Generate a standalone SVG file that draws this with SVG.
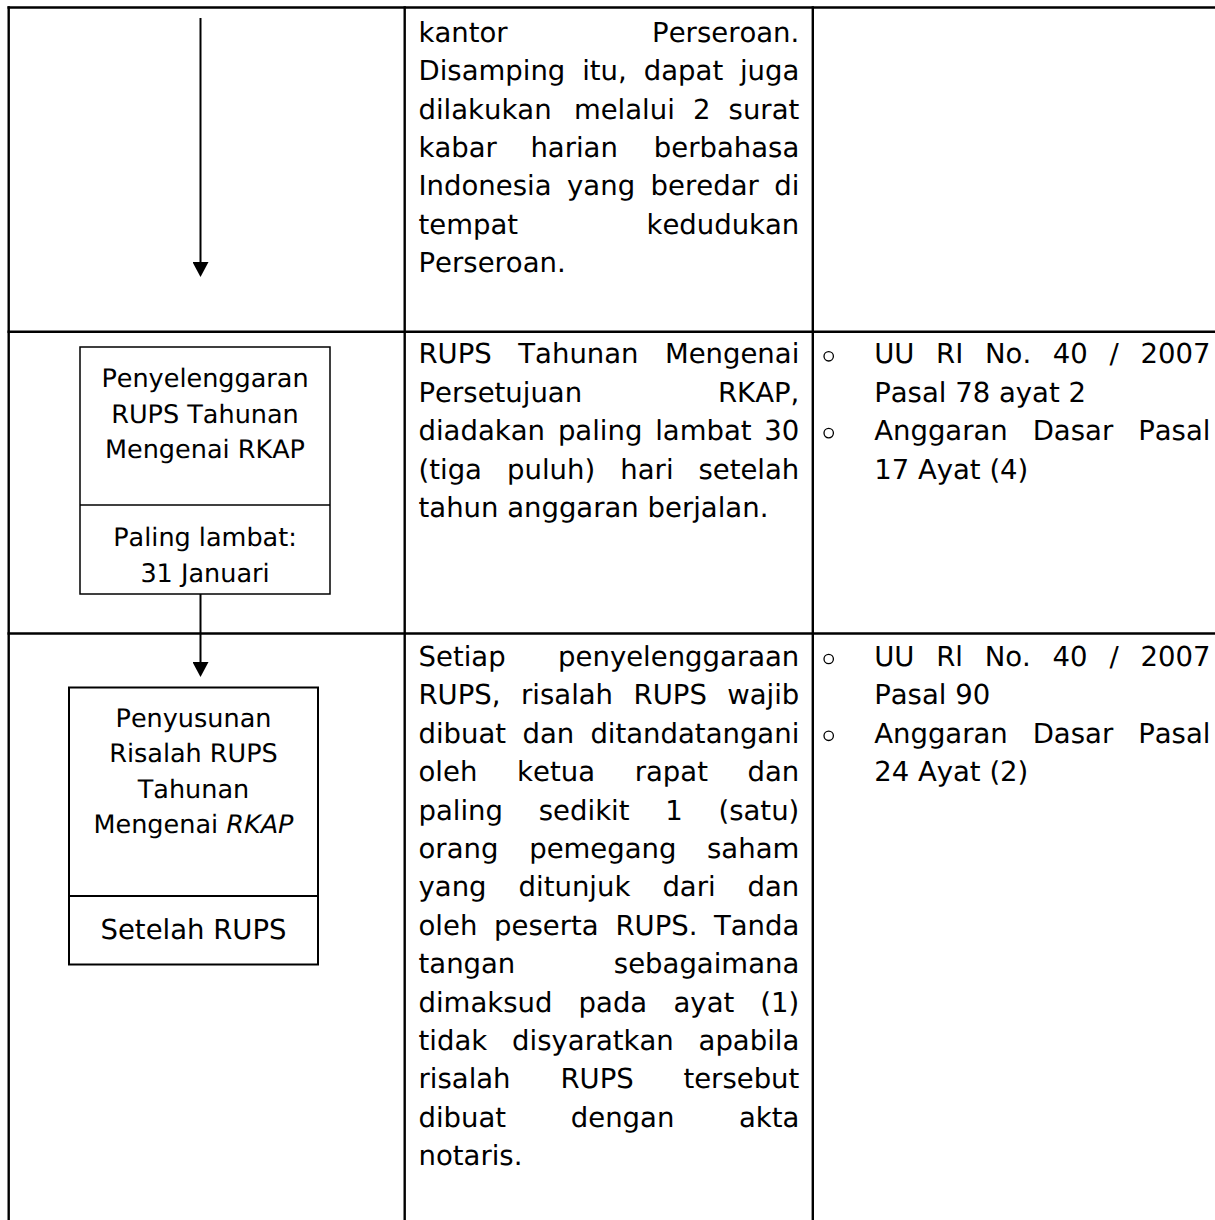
<svg xmlns="http://www.w3.org/2000/svg" width="1215" height="1220" viewBox="0 0 1215 1220">
<defs>
<style>
text{font-family:"DejaVu Sans","Verdana",sans-serif;fill:#000;font-kerning:none;text-rendering:geometricPrecision}
.t{font-size:27.5px}
.b{font-size:25.5px;text-anchor:middle}
.e{text-anchor:end}
.grid{stroke:#000;stroke-width:2.4;fill:none}
.box{stroke:#000;fill:#fff}
.con{stroke:#000;stroke-width:2;fill:none}
.bul{fill:none;stroke:#000;stroke-width:1.3}
</style>
<marker id="ah" viewBox="0 0 15 16" refX="8" refY="8" markerWidth="15" markerHeight="16" markerUnits="userSpaceOnUse" orient="auto">
<path d="M0,0 L15,8 L0,16 Z" fill="#000"/>
</marker>
</defs>
<rect width="1215" height="1220" fill="#fff"/>

<g id="table" class="grid">
<line x1="7.5" y1="7.5" x2="1215" y2="7.5"/>
<line x1="8.7" y1="6.3" x2="8.7" y2="1220"/>
<line x1="404.7" y1="6.3" x2="404.7" y2="1220"/>
<line x1="812.8" y1="6.3" x2="812.8" y2="1220"/>
<line x1="7.5" y1="331.8" x2="1215" y2="331.8"/>
<line x1="7.5" y1="633.5" x2="1215" y2="633.5"/>
</g>

<g id="connectors">
<line class="con" x1="200.5" y1="18" x2="200.5" y2="270" marker-end="url(#ah)"/>
<line class="con" x1="200.5" y1="594" x2="200.5" y2="670" marker-end="url(#ah)"/>
</g>

<g id="node-penyelenggaraan">
<rect class="box" x="80" y="347" width="250" height="247" stroke-width="1.5"/>
<line class="box" x1="80" y1="505" x2="330" y2="505" stroke-width="1.5"/>
<text class="b" x="205" y="387.3">Penyelenggaran</text>
<text class="b" x="205" y="422.8">RUPS Tahunan</text>
<text class="b" x="205" y="458.3">Mengenai RKAP</text>
<text class="b" x="205" y="546">Paling lambat:</text>
<text class="b" x="205" y="581.5">31 Januari</text>
</g>

<g id="node-penyusunan">
<rect class="box" x="69" y="687.5" width="249" height="277" stroke-width="2"/>
<line class="box" x1="69" y1="896" x2="318" y2="896" stroke-width="2"/>
<text class="b" x="193.5" y="726.7">Penyusunan</text>
<text class="b" x="193.5" y="762.2">Risalah RUPS</text>
<text class="b" x="193.5" y="797.7">Tahunan</text>
<text class="b" x="193.5" y="833.2">Mengenai <tspan font-style="italic">RKAP</tspan></text>
<text class="t" x="193.5" y="939.3" text-anchor="middle">Setelah RUPS</text>
</g>

<g id="desc-row1" class="t">
<text x="418.5" y="41.7">kantor</text><text class="e" x="799.3" y="41.7">Perseroan.</text>
<text x="418.5" y="80.1">Disamping</text><text x="582.2" y="80.1">itu,</text><text x="643.8" y="80.1">dapat</text><text class="e" x="799.3" y="80.1">juga</text>
<text x="418.5" y="118.5">dilakukan</text><text x="573.9" y="118.5">melalui</text><text x="693.1" y="118.5">2</text><text class="e" x="799.3" y="118.5">surat</text>
<text x="418.5" y="156.9">kabar</text><text x="530.4" y="156.9">harian</text><text class="e" x="799.3" y="156.9">berbahasa</text>
<text x="418.5" y="195.3">Indonesia</text><text x="567.1" y="195.3">yang</text><text x="650.6" y="195.3">beredar</text><text class="e" x="799.3" y="195.3">di</text>
<text x="418.5" y="233.7">tempat</text><text class="e" x="799.3" y="233.7">kedudukan</text>
<text x="418.5" y="272.1">Perseroan.</text>
</g>

<g id="desc-row2" class="t">
<text x="418.5" y="363.3">RUPS</text><text x="518.3" y="363.3">Tahunan</text><text class="e" x="799.3" y="363.3">Mengenai</text>
<text x="418.5" y="401.7">Persetujuan</text><text class="e" x="799.3" y="401.7">RKAP,</text>
<text x="418.5" y="440.1">diadakan</text><text x="557.9" y="440.1">paling</text><text x="655.2" y="440.1">lambat</text><text class="e" x="799.3" y="440.1">30</text>
<text x="418.5" y="478.5">(tiga</text><text x="507.1" y="478.5">puluh)</text><text x="620.3" y="478.5">hari</text><text class="e" x="799.3" y="478.5">setelah</text>
<text x="418.5" y="516.9">tahun anggaran berjalan.</text>
</g>

<g id="desc-row3" class="t">
<text x="418.5" y="666">Setiap</text><text class="e" x="799.3" y="666">penyelenggaraan</text>
<text x="418.5" y="704.4">RUPS,</text><text x="521" y="704.4">risalah</text><text x="633.6" y="704.4">RUPS</text><text class="e" x="799.3" y="704.4">wajib</text>
<text x="418.5" y="742.8">dibuat</text><text x="522.5" y="742.8">dan</text><text class="e" x="799.3" y="742.8">ditandatangani</text>
<text x="418.5" y="781.2">oleh</text><text x="517.1" y="781.2">ketua</text><text x="634.7" y="781.2">rapat</text><text class="e" x="799.3" y="781.2">dan</text>
<text x="418.5" y="819.6">paling</text><text x="538.8" y="819.6">sedikit</text><text x="665.3" y="819.6">1</text><text class="e" x="799.3" y="819.6">(satu)</text>
<text x="418.5" y="858">orang</text><text x="529.2" y="858">pemegang</text><text class="e" x="799.3" y="858">saham</text>
<text x="418.5" y="896.4">yang</text><text x="518.6" y="896.4">ditunjuk</text><text x="662.4" y="896.4">dari</text><text class="e" x="799.3" y="896.4">dan</text>
<text x="418.5" y="934.8">oleh</text><text x="494.1" y="934.8">peserta</text><text x="615.4" y="934.8">RUPS.</text><text class="e" x="799.3" y="934.8">Tanda</text>
<text x="418.5" y="973.2">tangan</text><text class="e" x="799.3" y="973.2">sebagaimana</text>
<text x="418.5" y="1011.6">dimaksud</text><text x="578.6" y="1011.6">pada</text><text x="673.5" y="1011.6">ayat</text><text class="e" x="799.3" y="1011.6">(1)</text>
<text x="418.5" y="1050">tidak</text><text x="512.1" y="1050">disyaratkan</text><text class="e" x="799.3" y="1050">apabila</text>
<text x="418.5" y="1088.4">risalah</text><text x="560.4" y="1088.4">RUPS</text><text class="e" x="799.3" y="1088.4">tersebut</text>
<text x="418.5" y="1126.8">dibuat</text><text x="570.8" y="1126.8">dengan</text><text class="e" x="799.3" y="1126.8">akta</text>
<text x="418.5" y="1165.2">notaris.</text>
</g>

<g id="ref-row2" class="t">
<circle class="bul" cx="828.7" cy="356.3" r="4.7"/>
<text x="874.2" y="363.3">UU</text><text x="936.1" y="363.3">RI</text><text x="985" y="363.3">No.</text><text x="1052.8" y="363.3">40</text><text x="1109.5" y="363.3">/</text><text class="e" x="1210.4" y="363.3">2007</text>
<text x="874.2" y="401.7">Pasal 78 ayat 2</text>
<circle class="bul" cx="828.7" cy="433.1" r="4.7"/>
<text x="874.2" y="440.1">Anggaran</text><text x="1032.7" y="440.1">Dasar</text><text class="e" x="1210.4" y="440.1">Pasal</text>
<text x="874.2" y="478.5">17 Ayat (4)</text>
</g>

<g id="ref-row3" class="t">
<circle class="bul" cx="828.7" cy="659" r="4.7"/>
<text x="874.2" y="666">UU</text><text x="936.2" y="666">Rl</text><text x="984.7" y="666">No.</text><text x="1052.6" y="666">40</text><text x="1109.4" y="666">/</text><text class="e" x="1210.4" y="666">2007</text>
<text x="874.2" y="704.4">Pasal 90</text>
<circle class="bul" cx="828.7" cy="735.8" r="4.7"/>
<text x="874.2" y="742.8">Anggaran</text><text x="1032.7" y="742.8">Dasar</text><text class="e" x="1210.4" y="742.8">Pasal</text>
<text x="874.2" y="781.2">24 Ayat (2)</text>
</g>
</svg>
